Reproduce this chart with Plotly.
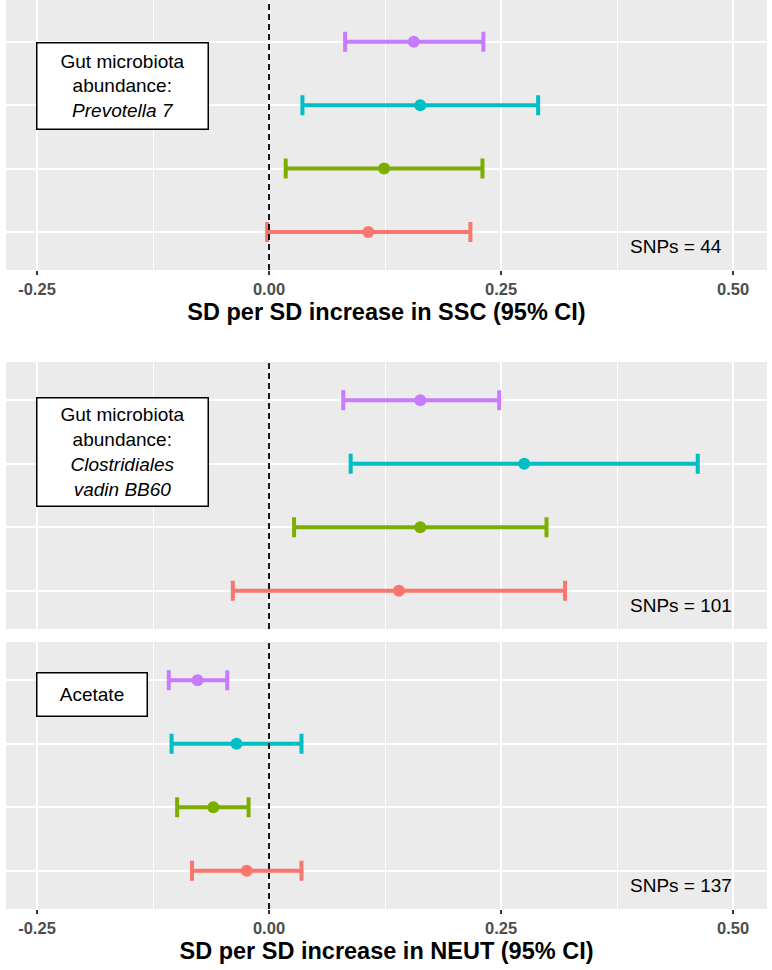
import plotly.graph_objects as go

# ---- data ----
methods = ["Method 1", "Method 2", "Method 3", "Method 4"]  # bottom -> top rows
colors = ["#F8766D", "#7CAE00", "#00BFC4", "#C77CFF"]

p1_est = [0.107, 0.124, 0.163, 0.156]
p1_lo = [-0.002, 0.018, 0.036, 0.082]
p1_hi = [0.217, 0.230, 0.290, 0.231]

p2_est = [0.140, 0.163, 0.275, 0.163]
p2_lo = [-0.039, 0.027, 0.088, 0.080]
p2_hi = [0.319, 0.299, 0.462, 0.248]

p3_est = [-0.024, -0.060, -0.035, -0.077]
p3_lo = [-0.083, -0.099, -0.105, -0.108]
p3_hi = [0.035, -0.022, 0.035, -0.045]

panel_labels = [
    "Gut microbiota<br>abundance:<br><i>Prevotella 7</i>",
    "Gut microbiota<br>abundance:<br><i>Clostridiales</i><br><i>vadin BB60</i>",
    "Acetate",
]
snp_labels = ["SNPs = 44", "SNPs = 101", "SNPs = 137"]
x_titles = ["SD per SD increase in SSC (95% CI)", None, "SD per SD increase in NEUT (95% CI)"]
x_tickvals = [-0.25, 0.0, 0.25, 0.50]
x_ticktext = ["-0.25", "0.00", "0.25", "0.50"]

panels = [(p1_est, p1_lo, p1_hi), (p2_est, p2_lo, p2_hi), (p3_est, p3_lo, p3_hi)]

# ---- layout geometry ----
W, H = 772, 970
FONT = "Liberation Sans, Arial, Helvetica, sans-serif"
x_dom = [6 / W, 767 / W]
y_px = [(0, 270), (362, 629), (642, 909)]
y_doms = [[1 - b / H, 1 - t / H] for t, b in y_px]
y_ranges = [[-0.6, 3.66], [-0.6, 3.6], [-0.6, 3.6]]
box_sizes = [(173, 88), (173, 110), (112, 45)]
box_tops_px = [42, 397, 672]
x_range = [-0.2834, 0.5366]

fig = go.Figure()
layout = dict(
    width=W, height=H,
    margin=dict(l=0, r=0, t=0, b=0),
    paper_bgcolor="white",
    plot_bgcolor="#EBEBEB",
    showlegend=False,
    font=dict(family=FONT, color="black"),
    annotations=[], shapes=[],
)

for i, (est, lo, hi) in enumerate(panels):
    k = "" if i == 0 else str(i + 1)
    xa, ya = "x" + k, "y" + k
    for j in range(len(methods)):
        fig.add_trace(go.Scatter(
            x=[est[j]], y=[methods[j]], mode="markers",
            marker=dict(color=colors[j], size=12),
            error_x=dict(type="data", symmetric=False,
                         array=[hi[j] - est[j]], arrayminus=[est[j] - lo[j]],
                         color=colors[j], thickness=4, width=10),
            xaxis=xa, yaxis=ya, name=methods[j],
        ))
    show_ticks = x_titles[i] is not None
    xaxis = dict(
        domain=x_dom, anchor=ya, range=x_range,
        tickvals=x_tickvals, ticktext=x_ticktext,
        showticklabels=show_ticks,
        ticks="outside" if show_ticks else "", ticklen=4, tickwidth=1.5, tickcolor="#333333",
        tickfont=dict(family=FONT, size=16.5, color="#4D4D4D", weight="bold"),
        showgrid=True, gridcolor="white", gridwidth=1.6,
        minor=dict(tick0=0.125, dtick=0.25, showgrid=True, gridcolor="white", gridwidth=0.8),
        zeroline=False, showline=False, fixedrange=True,
    )
    if show_ticks:
        xaxis["title"] = dict(text=x_titles[i], standoff=6,
                              font=dict(family=FONT, size=23.5, color="black", weight="bold"))
    layout["xaxis" + k] = xaxis
    layout["yaxis" + k] = dict(
        domain=y_doms[i], anchor=xa, type="category", categoryarray=methods,
        range=y_ranges[i], showticklabels=False, ticks="",
        showgrid=True, gridcolor="white", gridwidth=1.6,
        zeroline=False, showline=False, fixedrange=True,
    )
    # dashed reference line at 0
    layout["shapes"].append(dict(
        type="line", xref=xa, yref=ya + " domain", x0=0, x1=0, y0=0, y1=1,
        line=dict(color="black", width=1.8, dash="6px,4px"), layer="above",
    ))
    # label box
    bw, bh = box_sizes[i]
    layout["annotations"].append(dict(
        text=panel_labels[i], xref="paper", yref="paper",
        x=36 / W, y=1 - box_tops_px[i] / H, xanchor="left", yanchor="top",
        showarrow=False, align="center", valign="middle",
        width=bw - 3, height=bh - 3, borderpad=0, borderwidth=1.5,
        bordercolor="black", bgcolor="white",
        font=dict(family=FONT, size=19, color="black"),
    ))
    # SNP count
    layout["annotations"].append(dict(
        text=snp_labels[i], xref="paper", yref=ya + " domain",
        x=628 / W, y=0.088, xanchor="left", yanchor="middle", showarrow=False,
        font=dict(family=FONT, size=19, color="black"),
    ))

fig.update_layout(**layout)
fig.write_html("out.html")
